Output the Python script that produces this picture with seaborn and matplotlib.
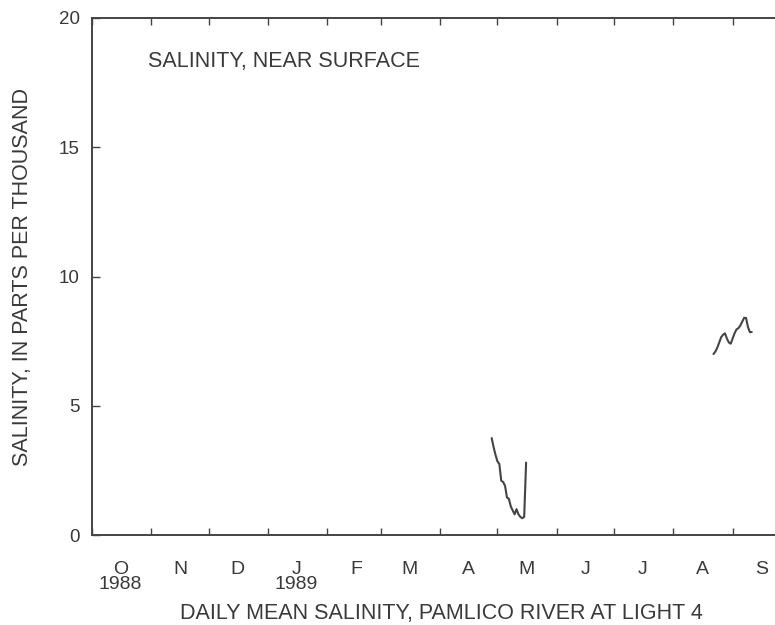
import numpy as np
import pandas as pd
import matplotlib
matplotlib.use("Agg")
import matplotlib.pyplot as plt
import seaborn as sns

# ---- data ----
seg1_start = "1989-04-28"
seg1_values = [3.75, 3.4, 3.1, 2.85, 2.75, 2.1, 2.05, 1.9, 1.45, 1.4, 1.1,
               0.95, 0.8, 1.0, 0.8, 0.7, 0.65, 0.7, 2.8]
seg2_start = "1989-08-22"
seg2_values = [7.0, 7.1, 7.25, 7.45, 7.65, 7.75, 7.8, 7.6, 7.45, 7.4, 7.6,
               7.8, 7.95, 8.0, 8.1, 8.25, 8.4, 8.4, 8.05, 7.85, 7.85]
month_labels = ["O\n1988", "N", "D", "J\n1989", "F", "M", "A", "M", "J", "J", "A", "S"]
y_ticks = [0, 5, 10, 15, 20]

df1 = pd.DataFrame({"date": pd.date_range(seg1_start, periods=len(seg1_values), freq="D"),
                    "sal": seg1_values})
df2 = pd.DataFrame({"date": pd.date_range(seg2_start, periods=len(seg2_values), freq="D"),
                    "sal": seg2_values})

sns.set_style("white")
plt.rcParams["font.family"] = ["Liberation Sans", "DejaVu Sans"]
txt = "#3a3a3a"

fig = plt.figure(figsize=(7.75, 6.25), dpi=100)
ax = fig.add_axes([92/775, 90/625, 698/775, 517/625])

line_kw = dict(color="#444444", linewidth=1.5, ax=ax)
sns.lineplot(data=df1, x="date", y="sal", **line_kw)
sns.lineplot(data=df2, x="date", y="sal", **line_kw)

ax.set_xlim(pd.Timestamp("1988-10-01"), pd.Timestamp("1989-10-01"))
ax.set_ylim(0, 20)

# month boundary ticks (major, no labels), mid-month labels (minor)
month_starts = pd.date_range("1988-10-01", "1989-09-01", freq="MS")
mids = [s + pd.Timedelta(days=15) for s in month_starts]
ax.set_xticks(month_starts)
ax.set_xticklabels([""] * len(month_starts))
ax.set_xticks(mids, minor=True)
ax.set_xticklabels(month_labels, minor=True, fontsize=14, color=txt,
                   linespacing=0.82)
ax.tick_params(axis="x", which="major", direction="in", length=5, width=1,
               color="#444444", top=True, bottom=True)
ax.tick_params(axis="x", which="minor", length=0, pad=19)

ax.set_yticks(y_ticks)
ax.set_yticklabels([str(v) for v in y_ticks], fontsize=13.5, color=txt)
ax.tick_params(axis="y", direction="in", length=6, width=1, color="#444444",
               pad=9, left=True)

for s in ax.spines.values():
    s.set_color("#444444")
    s.set_linewidth(1.4)

ax.set_xlabel("DAILY MEAN SALINITY, PAMLICO RIVER AT LIGHT 4", fontsize=15.5,
              color=txt, labelpad=7)
ax.set_ylabel("SALINITY, IN PARTS PER THOUSAND", fontsize=15.5, color=txt,
              labelpad=18)
ax.text(0.080, 0.915, "SALINITY, NEAR SURFACE", transform=ax.transAxes,
        fontsize=15.5, color=txt, va="center", ha="left")

fig.savefig("out.png", dpi=100)
